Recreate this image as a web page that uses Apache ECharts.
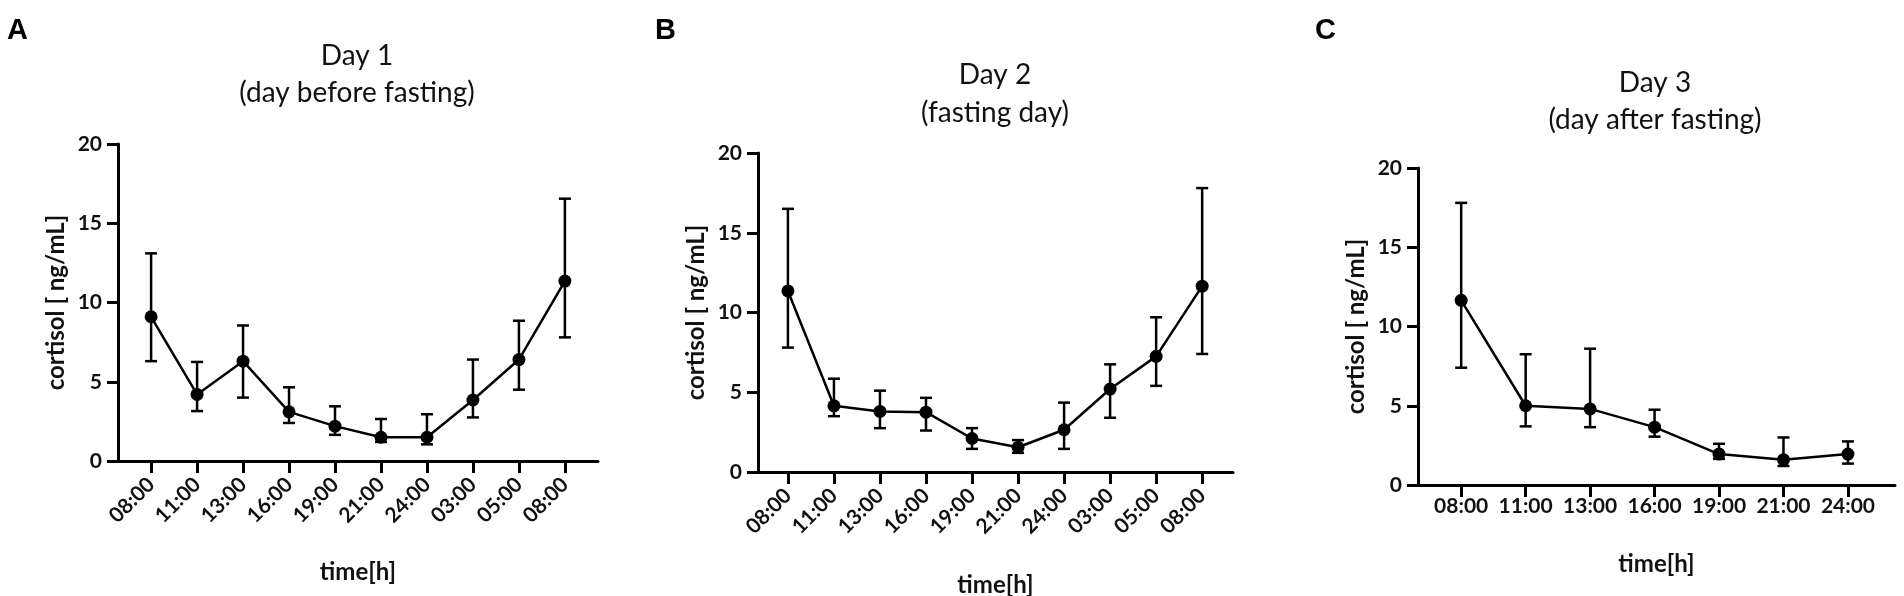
<!DOCTYPE html>
<html><head><meta charset="utf-8">
<script src="https://cdn.jsdelivr.net/npm/echarts@6/dist/echarts.min.js"></script>
<style>html,body{margin:0;padding:0;background:#fff}#c{width:1904px;height:596px}</style>
</head><body><div id="c"></div>
<script>
// ---- data ----
const timesAB = ['08:00','11:00','13:00','16:00','19:00','21:00','24:00','03:00','05:00','08:00'];
const timesC = ['08:00','11:00','13:00','16:00','19:00','21:00','24:00'];
const day1Mean  = [9.1, 4.2, 6.3, 3.1, 2.2, 1.5, 1.5, 3.85, 6.4, 11.35];
const day1Upper = [13.1, 6.25, 8.55, 4.65, 3.45, 2.65, 2.95, 6.4, 8.85, 16.55];
const day1Lower = [6.3, 3.15, 4.0, 2.4, 1.65, 1.2, 1.05, 2.75, 4.5, 7.8];
const day2Mean  = [11.35, 4.15, 3.8, 3.75, 2.1, 1.55, 2.65, 5.2, 7.25, 11.65];
const day2Upper = [16.5, 5.85, 5.1, 4.65, 2.75, 2.0, 4.35, 6.75, 9.7, 17.8];
const day2Lower = [7.8, 3.5, 2.75, 2.6, 1.45, 1.2, 1.45, 3.4, 5.4, 7.4];
const day3Mean  = [11.65, 5.0, 4.8, 3.65, 1.95, 1.6, 1.95];
const day3Upper = [17.8, 8.25, 8.6, 4.75, 2.6, 3.0, 2.75];
const day3Lower = [7.4, 3.7, 3.65, 3.05, 1.65, 1.2, 1.35];
const yMin = 0, yMax = 20, yStep = 5;
const panelLetters = ['A','B','C'];
const titleLine1 = ['Day 1','Day 2','Day 3'];
const titleLine2 = ['(day before fasting)','(fasting day)','(day after fasting)'];
const yName = 'cortisol [ ng/mL]';
const xName = 'time[h]';

// ---- layout ----
const FONT = 'Lato';
const panels = [
  {cats: timesAB, mean: day1Mean, up: day1Upper, lo: day1Lower,
   grid: {left:118, top:144, width:480, height:317}, xMin:-0.72, xMax:9.72, rotate:45, lblMargin:20, xGap:99,
   letterX:7, titleX:357, t1:56, t2:93},
  {cats: timesAB, mean: day2Mean, up: day2Upper, lo: day2Lower,
   grid: {left:758, top:153, width:475, height:319}, xMin:-0.65, xMax:9.67, rotate:45, lblMargin:20, xGap:101,
   letterX:655, titleX:995, t1:75, t2:113},
  {cats: timesC, mean: day3Mean, up: day3Upper, lo: day3Lower,
   grid: {left:1418, top:168, width:477, height:317}, xMin:-0.67, xMax:6.73, rotate:0, lblMargin:11, xGap:67,
   letterX:1315, titleX:1655, t1:83, t2:120}
];

const tickTxt = {fontFamily: FONT, fontSize: 21, fontWeight: 'bold', color: '#111'};
const nameTxt = {fontFamily: FONT, fontSize: 24, fontWeight: 'bold', color: '#111'};
const grids = [], xAxes = [], yAxes = [], series = [], graphics = [];

panels.forEach((p, gi) => {
  grids.push(Object.assign({outerBoundsMode: 'none', containLabel: false}, p.grid));
  const idx = p.cats.map((_, i) => i);
  xAxes.push({
    gridIndex: gi, type: 'value', min: p.xMin, max: p.xMax,
    axisLine: {show: true, onZero: false, lineStyle: {color: '#000', width: 3}},
    axisTick: {show: true, customValues: idx, length: 12, lineStyle: {color: '#000', width: 3}},
    axisLabel: Object.assign({customValues: idx, rotate: p.rotate, margin: p.lblMargin,
      formatter: v => p.cats[Math.round(v)]}, tickTxt),
    splitLine: {show: false},
    name: xName, nameLocation: 'middle', nameGap: p.xGap, nameTextStyle: Object.assign({}, nameTxt)
  });
  yAxes.push({
    gridIndex: gi, type: 'value', min: yMin, max: yMax, interval: yStep,
    axisLine: {show: true, onZero: false, lineStyle: {color: '#000', width: 3}},
    axisTick: {show: true, length: 11, lineStyle: {color: '#000', width: 3}},
    axisLabel: Object.assign({margin: 16}, tickTxt),
    splitLine: {show: false},
    name: yName, nameLocation: 'middle', nameGap: 50, nameTextStyle: Object.assign({}, nameTxt)
  });
  series.push({
    type: 'custom', xAxisIndex: gi, yAxisIndex: gi, z: 2,
    data: p.up.map((u, i) => [i, p.lo[i], u]),
    encode: {x: 0, y: [1, 2]},
    renderItem(params, api) {
      const x = api.value(0);
      const lo = api.coord([x, api.value(1)]);
      const hi = api.coord([x, api.value(2)]);
      const hw = 6, st = {stroke: '#000', lineWidth: 2.5};
      return {type: 'group', children: [
        {type: 'line', shape: {x1: lo[0], y1: lo[1], x2: hi[0], y2: hi[1]}, style: st},
        {type: 'line', shape: {x1: hi[0]-hw, y1: hi[1], x2: hi[0]+hw, y2: hi[1]}, style: st},
        {type: 'line', shape: {x1: lo[0]-hw, y1: lo[1], x2: lo[0]+hw, y2: lo[1]}, style: st}
      ]};
    }
  });
  series.push({
    type: 'line', xAxisIndex: gi, yAxisIndex: gi, z: 3,
    data: p.mean.map((v, i) => [i, v]),
    symbol: 'circle', symbolSize: 13,
    lineStyle: {color: '#000', width: 2.5},
    itemStyle: {color: '#000'}
  });
  graphics.push({type: 'text', x: p.letterX, y: 31, style: {text: panelLetters[gi],
    font: 'bold 29px "Liberation Sans"', fill: '#000', textVerticalAlign: 'middle'}});
  graphics.push({type: 'text', x: p.titleX, y: p.t1, style: {text: titleLine1[gi],
    font: '28px ' + FONT, fill: '#111', textAlign: 'center', textVerticalAlign: 'middle'}});
  graphics.push({type: 'text', x: p.titleX, y: p.t2, style: {text: titleLine2[gi],
    font: '28px ' + FONT, fill: '#111', textAlign: 'center', textVerticalAlign: 'middle'}});
});

const chart = echarts.init(document.getElementById('c'), null, {renderer: 'canvas'});
chart.setOption({
  animation: false,
  backgroundColor: '#fff',
  grid: grids, xAxis: xAxes, yAxis: yAxes, series: series, graphic: graphics
});
</script>
</body></html>
